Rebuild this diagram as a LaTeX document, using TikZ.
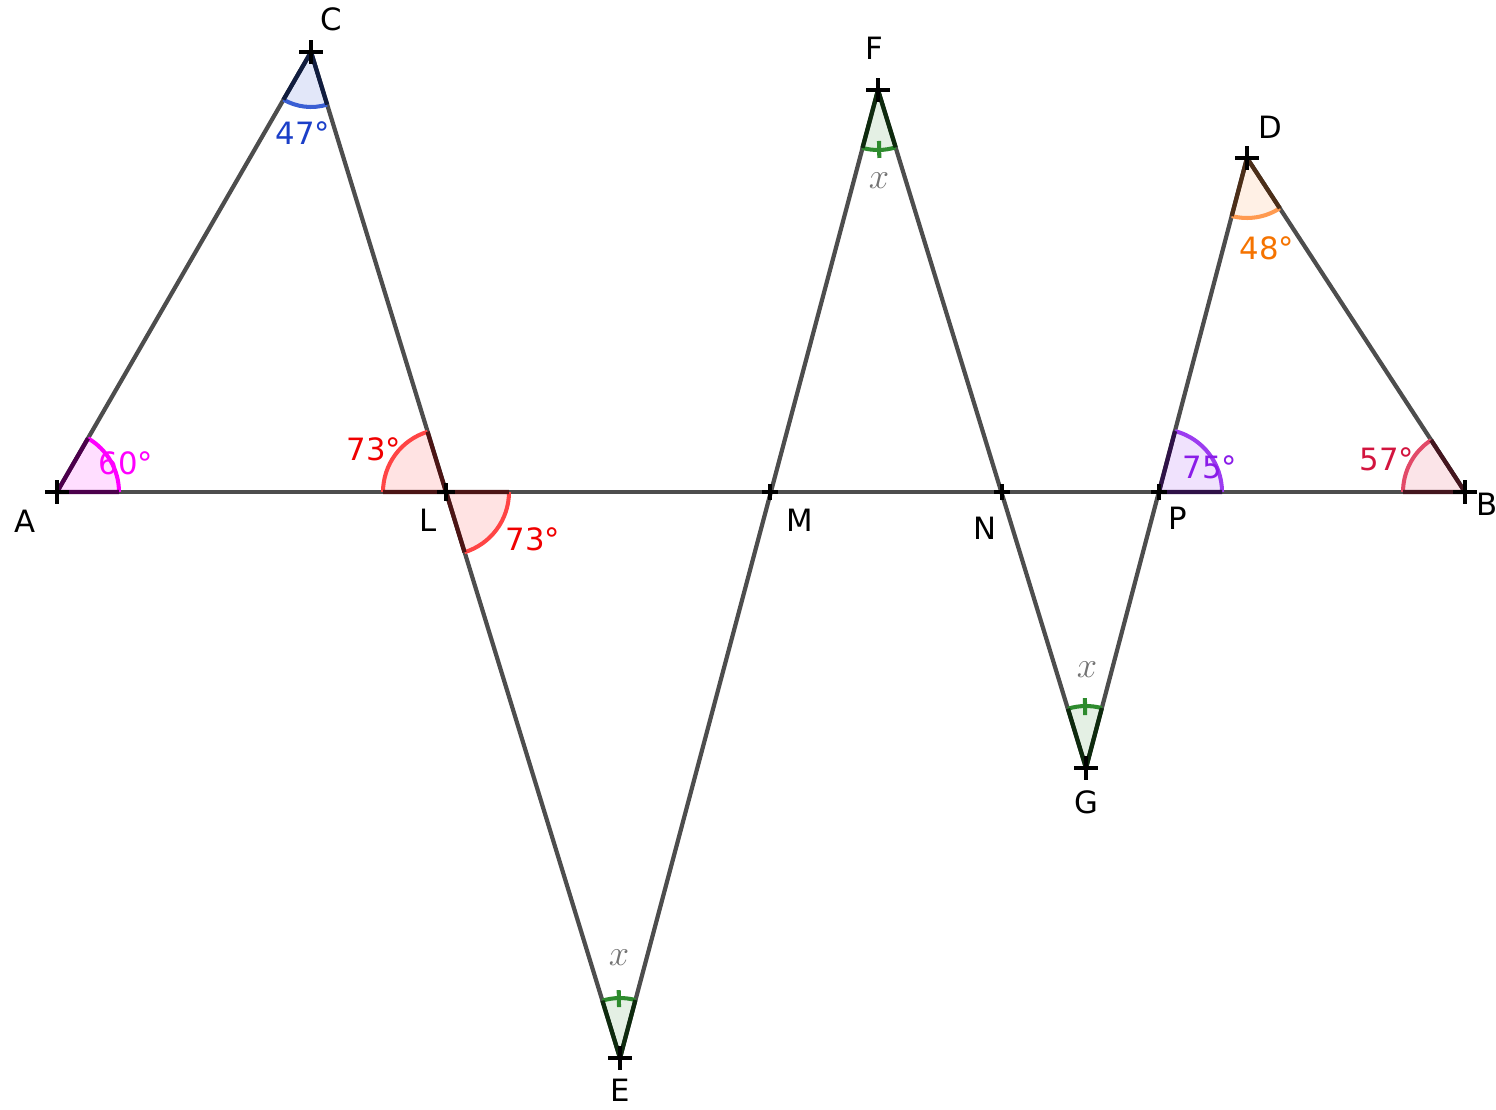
\documentclass[tikz,border=0pt]{standalone}
\usepackage{fontspec}
\setmainfont{DejaVu Sans}
\usetikzlibrary{angles,calc}
\definecolor{segc}{HTML}{4D4D4D}
\definecolor{magA}{HTML}{FF00FF}
\definecolor{bluC}{HTML}{3A5FD4}
\definecolor{bluT}{HTML}{1B3FC8}
\definecolor{redL}{HTML}{FF4545}
\definecolor{redT}{HTML}{F00000}
\definecolor{grnX}{HTML}{2E8B2E}
\definecolor{orgD}{HTML}{FF9A50}
\definecolor{orgT}{HTML}{F57300}
\definecolor{purP}{HTML}{9C3CF0}
\definecolor{purT}{HTML}{8A1CE8}
\definecolor{crmB}{HTML}{E24A68}
\definecolor{crmT}{HTML}{D2143E}
\newcommand\ptcross[2]{\draw[line width=2.4pt, black] ($(#1)+(-#2,0)$) -- ($(#1)+(#2,0)$) ($(#1)+(0,-#2)$) -- ($(#1)+(0,#2)$);}
\begin{document}
\begin{tikzpicture}[x=0.02cm,y=-0.02cm,
  seg/.style={line width=2.4pt, segc},
  ptlabel/.style={font=\fontsize{17.5}{20}\selectfont, text=black, inner sep=0pt},
  deglabel/.style={font=\fontsize{17.5}{20}\selectfont, inner sep=0pt},
  xlabel/.style={font=\fontsize{21}{24}\selectfont, text=black!55, inner sep=0pt},
  angarc/.style={line width=2.3pt, angle radius=#1},
  rad/.style={line width=2.4pt}]
\useasboundingbox (0,0) rectangle (1496,1109);
\coordinate (A) at (57,492);
\coordinate (B) at (1465,492);
\coordinate (C) at (311,52);
\coordinate (L) at (446,492);
\coordinate (M) at (770,492);
\coordinate (N) at (1002,492);
\coordinate (P) at (1159,492);
\coordinate (E) at (620,1058);
\coordinate (F) at (878,90);
\coordinate (G) at (1086,768);
\coordinate (D) at (1247,158);
% segments
\draw[seg] (A) -- (B);
\draw[seg] (A) -- (C);
\draw[seg] (C) -- (E);
\draw[seg] (E) -- (F);
\draw[seg] (F) -- (G);
\draw[seg] (G) -- (D);
\draw[seg] (D) -- (B);
% angles
\pic[draw=magA, fill=magA, fill opacity=0.13, angarc=1.24cm] {angle=B--A--C};
\draw[rad, magA!30!black] (A) -- ($(A)!1.24cm!(B)$) (A) -- ($(A)!1.24cm!(C)$);
\pic[draw=bluC, fill=bluC, fill opacity=0.15, angarc=1.1cm] {angle=A--C--L};
\draw[rad, bluC!30!black] (C) -- ($(C)!1.1cm!(A)$) (C) -- ($(C)!1.1cm!(L)$);
\pic[draw=redL, fill=redL, fill opacity=0.15, angarc=1.26cm] {angle=C--L--A};
\draw[rad, redL!30!black] (L) -- ($(L)!1.26cm!(A)$) (L) -- ($(L)!1.26cm!(C)$);
\pic[draw=redL, fill=redL, fill opacity=0.15, angarc=1.26cm] {angle=E--L--B};
\draw[rad, redL!30!black] (L) -- ($(L)!1.26cm!(B)$) (L) -- ($(L)!1.26cm!(E)$);
\pic[draw=grnX, fill=grnX, fill opacity=0.13, angarc=1.2cm] {angle=M--E--L};
\draw[rad, grnX!30!black] (E) -- ($(E)!1.2cm!(M)$) (E) -- ($(E)!1.2cm!(L)$);
\pic[draw=grnX, fill=grnX, fill opacity=0.13, angarc=1.2cm] {angle=M--F--N};
\draw[rad, grnX!30!black] (F) -- ($(F)!1.2cm!(M)$) (F) -- ($(F)!1.2cm!(N)$);
\pic[draw=grnX, fill=grnX, fill opacity=0.13, angarc=1.24cm] {angle=P--G--N};
\draw[rad, grnX!30!black] (G) -- ($(G)!1.24cm!(P)$) (G) -- ($(G)!1.24cm!(N)$);
\pic[draw=orgD, fill=orgD, fill opacity=0.15, angarc=1.2cm] {angle=P--D--B};
\draw[rad, orgD!30!black] (D) -- ($(D)!1.2cm!(P)$) (D) -- ($(D)!1.2cm!(B)$);
\pic[draw=purP, fill=purP, fill opacity=0.15, angarc=1.26cm] {angle=B--P--D};
\draw[rad, purP!30!black] (P) -- ($(P)!1.26cm!(B)$) (P) -- ($(P)!1.26cm!(D)$);
\pic[draw=crmB, fill=crmB, fill opacity=0.15, angarc=1.24cm] {angle=D--B--A};
\draw[rad, crmB!30!black] (B) -- ($(B)!1.24cm!(A)$) (B) -- ($(B)!1.24cm!(D)$);
% green ticks
\draw[line width=2.3pt, grnX] ($(E)+(91.1:1.02cm)$) -- ($(E)+(91.1:1.36cm)$);
\draw[line width=2.3pt, grnX] ($(F)+(271.1:1.02cm)$) -- ($(F)+(271.1:1.36cm)$);
\draw[line width=2.3pt, grnX] ($(G)+(90.9:1.06cm)$) -- ($(G)+(90.9:1.40cm)$);
% crosses
\ptcross{A}{12}
\ptcross{B}{12}
\ptcross{C}{12}
\ptcross{D}{12}
\ptcross{E}{12}
\ptcross{F}{12}
\ptcross{G}{12}
\ptcross{L}{9}
\ptcross{M}{8}
\ptcross{N}{8}
\ptcross{P}{8}
% point labels
\node[ptlabel] (lA) at (25,521) {A};
\node[ptlabel] (lB) at (1487,504) {B};
\node[ptlabel] (lC) at (331,19) {C};
\node[ptlabel] (lD) at (1270,127) {D};
\node[ptlabel] (lE) at (620,1090) {E};
\node[ptlabel] (lF) at (874,48) {F};
\node[ptlabel] (lG) at (1086,802) {G};
\node[ptlabel] (lL) at (428,520) {L};
\node[ptlabel] (lM) at (800,520) {M};
\node[ptlabel] (lN) at (985,528) {N};
\node[ptlabel] (lP) at (1178,518) {P};
% angle labels
\node[deglabel, text=magA] (t60) at (126,463) {60°};
\node[deglabel, text=bluT] (t47) at (303,133) {47°};
\node[deglabel, text=redT] (t73a) at (374,449) {73°};
\node[deglabel, text=redT] (t73b) at (533,539) {73°};
\node[deglabel, text=orgT] (t48) at (1267,248) {48°};
\node[deglabel, text=purT] (t75) at (1210,467) {75°};
\node[deglabel, text=crmT] (t57) at (1387,459) {57°};
\node[xlabel] (xE) at (619,958) {$x$};
\node[xlabel] (xF) at (879,181) {$x$};
\node[xlabel] (xG) at (1087,670) {$x$};
\end{tikzpicture}
\end{document}
